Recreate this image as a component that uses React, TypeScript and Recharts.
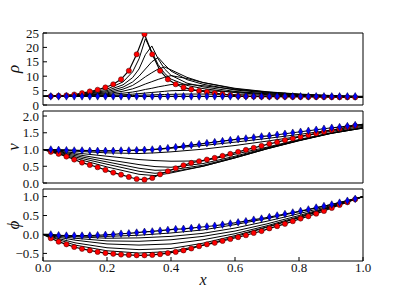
import { Line, LineChart, XAxis, YAxis } from 'recharts';

// grid of the converged / initial profiles (42 nodes, markers on the inner 40)
const X_GRID = [
  0, 0.0244, 0.0488, 0.0732, 0.0976, 0.122, 0.1463, 0.1707, 0.1951, 0.2195, 0.2439, 0.2683,
  0.2927, 0.3171, 0.3415, 0.3659, 0.3902, 0.4146, 0.439, 0.4634, 0.4878, 0.5122, 0.5366, 0.561,
  0.5854, 0.6098, 0.6341, 0.6585, 0.6829, 0.7073, 0.7317, 0.7561, 0.7805, 0.8049, 0.8293, 0.8537,
  0.878, 0.9024, 0.9268, 0.9512, 0.9756, 1,
];

const RHO_INIT = [
  3, 3, 3, 3, 3, 3, 3, 3, 3, 3, 3, 3, 3, 3, 3, 3, 3, 3, 3, 3, 3, 3, 3, 3, 3, 3, 3, 3, 3, 3, 3,
  3, 3, 3, 3, 3, 3, 3, 3, 3, 3, 3,
];
const RHO_FINAL = [
  3.0, 3.05, 3.2, 3.35, 3.65, 4.1, 4.7, 5.3, 6.1, 7.2, 8.9, 11.9, 17.6, 24.6, 17.6, 11.9, 8.9,
  7.2, 6.1, 5.4, 4.9, 4.55, 4.1, 3.75, 3.4, 3.15, 3.0, 2.95, 2.9, 2.88, 2.86, 2.84, 2.82, 2.8, 2.78,
  2.76, 2.74, 2.72, 2.7, 2.68, 2.66, 2.64,
];

const V_INIT = [
  1.0, 1.0, 0.99, 0.98, 0.97, 0.97, 0.96, 0.96, 0.96, 0.96, 0.97, 0.97, 0.98, 0.99, 1.0, 1.02,
  1.04, 1.07, 1.1, 1.13, 1.16, 1.19, 1.22, 1.25, 1.28, 1.31, 1.33, 1.36, 1.39, 1.41, 1.44, 1.47,
  1.5, 1.53, 1.56, 1.59, 1.62, 1.65, 1.67, 1.7, 1.73, 1.75,
];
const V_FINAL = [
  1.0, 0.93, 0.87, 0.79, 0.7, 0.61, 0.54, 0.47, 0.39, 0.31, 0.25, 0.18, 0.12, 0.1, 0.15, 0.26,
  0.35, 0.44, 0.53, 0.6, 0.65, 0.7, 0.75, 0.81, 0.87, 0.93, 0.99, 1.05, 1.11, 1.17, 1.22, 1.28,
  1.33, 1.38, 1.43, 1.48, 1.53, 1.58, 1.62, 1.67, 1.71, 1.75,
];

const PHI_INIT = [
  0, 0, -0.02, -0.03, -0.03, -0.03, -0.03, -0.02, -0.01, 0.0, 0.02, 0.03, 0.05, 0.07, 0.08, 0.1,
  0.12, 0.14, 0.15, 0.17, 0.19, 0.21, 0.23, 0.26, 0.29, 0.32, 0.35, 0.39, 0.42, 0.46, 0.5, 0.54,
  0.58, 0.62, 0.66, 0.71, 0.75, 0.79, 0.84, 0.89, 0.94, 1.0,
];
const PHI_FINAL = [
  0, -0.1, -0.19, -0.26, -0.33, -0.38, -0.42, -0.46, -0.49, -0.51, -0.53, -0.54, -0.55, -0.55,
  -0.54, -0.52, -0.49, -0.46, -0.42, -0.37, -0.31, -0.26, -0.22, -0.17, -0.12, -0.07, -0.02, 0.04,
  0.09, 0.16, 0.22, 0.28, 0.35, 0.42, 0.48, 0.55, 0.62, 0.7, 0.78, 0.85, 0.93, 1.0,
];

// intermediate Newton iterates (black lines only)
const RHO_ITER_X = [0, 0.1, 0.2, 0.25, 0.28, 0.3, 0.32, 0.34, 0.36, 0.38, 0.4, 0.45, 0.5, 0.6, 0.7, 0.8, 0.9, 1.0];
const RHO_ITERS = [
  [3, 3.5, 5.5, 8, 11.5, 16, 23, 18.5, 14, 11, 9, 6.8, 5.7, 4.3, 3.6, 3.1, 2.8, 2.6],
  [3, 3.4, 5.0, 7, 9.5, 12.5, 17.5, 20.5, 16, 12.5, 10.3, 7.6, 6.3, 4.7, 3.9, 3.3, 2.9, 2.7],
  [3, 3.3, 4.6, 6.2, 8, 10, 12.5, 15, 16.5, 14, 11.8, 8.8, 7.2, 5.2, 4.2, 3.5, 3.1, 2.8],
  [3, 3.25, 4.2, 5.5, 6.8, 8.2, 9.8, 11.2, 12.5, 13.2, 12.2, 9.6, 7.8, 5.6, 4.5, 3.7, 3.2, 2.85],
  [3, 3.2, 3.9, 4.8, 5.6, 6.4, 7.3, 8.1, 8.9, 9.6, 10.2, 9.2, 7.8, 5.8, 4.6, 3.8, 3.3, 2.9],
  [3, 3.1, 3.6, 4.1, 4.5, 4.9, 5.4, 5.8, 6.3, 6.7, 7.1, 7.2, 6.7, 5.4, 4.4, 3.7, 3.2, 2.9],
  [3, 3.05, 3.3, 3.55, 3.75, 3.95, 4.15, 4.35, 4.55, 4.75, 4.95, 5.1, 5.0, 4.5, 3.9, 3.4, 3.1, 2.9],
  [3, 3.0, 3.1, 3.2, 3.3, 3.35, 3.45, 3.5, 3.6, 3.65, 3.7, 3.8, 3.8, 3.6, 3.4, 3.2, 3.0, 2.9],
];

const V_ITER_X = [0, 0.1, 0.2, 0.3, 0.35, 0.4, 0.5, 0.6, 0.7, 0.8, 0.9, 1.0];
const V_ITERS = [
  [1, 0.98, 0.96, 0.98, 1.0, 1.04, 1.12, 1.22, 1.33, 1.45, 1.58, 1.72],
  [1, 0.95, 0.9, 0.88, 0.9, 0.93, 1.01, 1.12, 1.25, 1.39, 1.54, 1.69],
  [1, 0.9, 0.8, 0.7, 0.67, 0.65, 0.66, 0.86, 1.07, 1.3, 1.5, 1.66],
  [1, 0.86, 0.7, 0.55, 0.49, 0.47, 0.58, 0.8, 1.05, 1.28, 1.49, 1.65],
  [1, 0.82, 0.63, 0.44, 0.38, 0.39, 0.53, 0.77, 1.03, 1.27, 1.48, 1.64],
  [1, 0.78, 0.56, 0.35, 0.29, 0.33, 0.5, 0.75, 1.02, 1.26, 1.48, 1.64],
  [1, 0.74, 0.48, 0.26, 0.22, 0.3, 0.5, 0.75, 1.02, 1.27, 1.49, 1.65],
];

const PHI_ITER_X = [0, 0.1, 0.2, 0.3, 0.4, 0.5, 0.6, 0.7, 0.8, 0.9, 1.0];
const PHI_ITERS = [
  [0, -0.04, -0.05, -0.02, 0.04, 0.12, 0.26, 0.42, 0.6, 0.79, 1.0],
  [0, -0.06, -0.1, -0.09, -0.05, 0.03, 0.17, 0.35, 0.55, 0.76, 1.0],
  [0, -0.1, -0.17, -0.18, -0.14, -0.05, 0.09, 0.28, 0.5, 0.74, 1.0],
  [0, -0.15, -0.25, -0.28, -0.25, -0.14, 0.02, 0.23, 0.47, 0.73, 1.0],
  [0, -0.22, -0.35, -0.4, -0.37, -0.23, -0.03, 0.2, 0.45, 0.72, 1.0],
  [0, -0.28, -0.43, -0.49, -0.45, -0.28, -0.06, 0.19, 0.44, 0.71, 1.0],
];

const X_TICKS = [0, 0.2, 0.4, 0.6, 0.8, 1.0];
const RHO_TICKS = [0, 5, 10, 15, 20, 25];
const V_TICKS = [0, 0.5, 1.0, 1.5, 2.0];
const PHI_TICKS = [-0.5, 0, 0.5, 1.0];

const W = 399;
const H = 299;
const PLOT_LEFT = 43;
const PLOT_RIGHT = 363;
const FONT = 'Liberation Serif, DejaVu Serif, serif';
const TICK_STYLE = { fill: '#111', fontSize: 13, fontFamily: FONT, style: { fontFamily: FONT } };

const pts = (xs: number[], ys: number[]) => xs.map((x, i) => ({ x, y: ys[i] }));
const fmt1 = (v: number) => v.toFixed(1).replace('-', '\u2212');
const fmt0 = (v: number) => String(v);

const last = X_GRID.length - 1;

function redDot(p: any) {
  if (p.index === 0 || p.index === last) return <g key={`r${p.index}`} />;
  return <circle key={`r${p.index}`} cx={p.cx} cy={p.cy} r={2.6} fill="#ff0000" stroke="#3a0000" strokeWidth={0.5} />;
}

function blueDot(p: any) {
  if (p.index === 0 || p.index === last) return <g key={`b${p.index}`} />;
  const { cx, cy } = p;
  return (
    <path
      key={`b${p.index}`}
      d={`M${cx},${cy - 3.8}L${cx + 2.2},${cy}L${cx},${cy + 3.8}L${cx - 2.2},${cy}Z`}
      fill="#0000ff"
      stroke="#000033"
      strokeWidth={0.5}
    />
  );
}

interface PanelProps {
  top: number;
  bottom: number;
  domain: [number, number];
  ticks: number[];
  fmt: (v: number) => string;
  label: string;
  iterX: number[];
  iters: number[][];
  init: number[];
  final: number[];
  showX?: boolean;
}

function Panel({ top, bottom, domain, ticks, fmt, label, iterX, iters, init, final, showX }: PanelProps) {
  const xh = showX ? 30 : 1;
  const cy = (top + bottom) / 2;
  return (
    <div style={{ position: 'absolute', left: 0, top: 0 }}>
      <LineChart
        width={W}
        height={H}
        margin={{ top: top - 1, right: W - PLOT_RIGHT - 1, bottom: H - bottom - xh, left: 0 }}
      >
        <XAxis
          xAxisId="b"
          dataKey="x"
          type="number"
          domain={[0, 1]}
          ticks={X_TICKS}
          interval={0}
          height={xh}
          tickSize={-4}
          tickMargin={6}
          tick={showX ? TICK_STYLE : false}
          tickFormatter={fmt1}
          axisLine={{ stroke: '#000' }}
          tickLine={{ stroke: '#000' }}
          label={
            showX
              ? () => (
                  <text x={(PLOT_LEFT + PLOT_RIGHT) / 2} y={285} textAnchor="middle" style={{ fontFamily: FONT }} fontStyle="italic" fontSize={16} fill="#111">
                    x
                  </text>
                )
              : undefined
          }
        />
        <XAxis
          xAxisId="t"
          orientation="top"
          dataKey="x"
          type="number"
          domain={[0, 1]}
          ticks={X_TICKS}
          interval={0}
          height={1}
          tickSize={-4}
          tick={false}
          axisLine={{ stroke: '#000' }}
          tickLine={{ stroke: '#000' }}
        />
        <YAxis
          yAxisId="l"
          type="number"
          domain={domain}
          ticks={ticks}
          interval={0}
          width={PLOT_LEFT}
          tickSize={-4}
          tickMargin={8}
          tick={TICK_STYLE}
          tickFormatter={fmt}
          axisLine={{ stroke: '#000' }}
          tickLine={{ stroke: '#000' }}
          allowDataOverflow
          label={() => (
            <text
              x={13}
              y={cy}
              transform={`rotate(-90, 13, ${cy})`}
              textAnchor="middle"
              dominantBaseline="central"
              style={{ fontFamily: FONT }}
              fontStyle="italic"
              fontSize={17}
              fill="#111"
            >
              {label}
            </text>
          )}
        />
        <YAxis
          yAxisId="r"
          orientation="right"
          type="number"
          domain={domain}
          ticks={ticks}
          interval={0}
          width={1}
          tickSize={-4}
          tick={false}
          axisLine={{ stroke: '#000' }}
          tickLine={{ stroke: '#000' }}
          allowDataOverflow
        />
        {iters.map((ys, k) => (
          <Line
            key={`it${k}`}
            xAxisId="b"
            yAxisId="l"
            data={pts(iterX, ys)}
            dataKey="y"
            type="linear"
            stroke="#000"
            strokeWidth={1}
            dot={false}
            activeDot={false}
            isAnimationActive={false}
          />
        ))}
        <Line
          xAxisId="b"
          yAxisId="l"
          data={pts(X_GRID, final)}
          dataKey="y"
          type="linear"
          stroke="#000"
          strokeWidth={1.2}
          dot={redDot}
          activeDot={false}
          isAnimationActive={false}
        />
        <Line
          xAxisId="b"
          yAxisId="l"
          data={pts(X_GRID, init)}
          dataKey="y"
          type="linear"
          stroke="#000"
          strokeWidth={1.2}
          dot={blueDot}
          activeDot={false}
          isAnimationActive={false}
        />
      </LineChart>
    </div>
  );
}

export default function App() {
  return (
    <div style={{ position: 'absolute', left: 0, top: 0, width: W, height: H, background: '#fff' }}>
      <Panel top={33} bottom={105} domain={[0, 25]} ticks={RHO_TICKS} fmt={fmt0} label={'\u03c1'} iterX={RHO_ITER_X} iters={RHO_ITERS} init={RHO_INIT} final={RHO_FINAL} />
      <Panel top={111} bottom={183} domain={[0, 2.15]} ticks={V_TICKS} fmt={fmt1} label="v" iterX={V_ITER_X} iters={V_ITERS} init={V_INIT} final={V_FINAL} />
      <Panel top={189} bottom={261} domain={[-0.7, 1.2]} ticks={PHI_TICKS} fmt={fmt1} label={'\u03d5'} iterX={PHI_ITER_X} iters={PHI_ITERS} init={PHI_INIT} final={PHI_FINAL} showX />
    </div>
  );
}
